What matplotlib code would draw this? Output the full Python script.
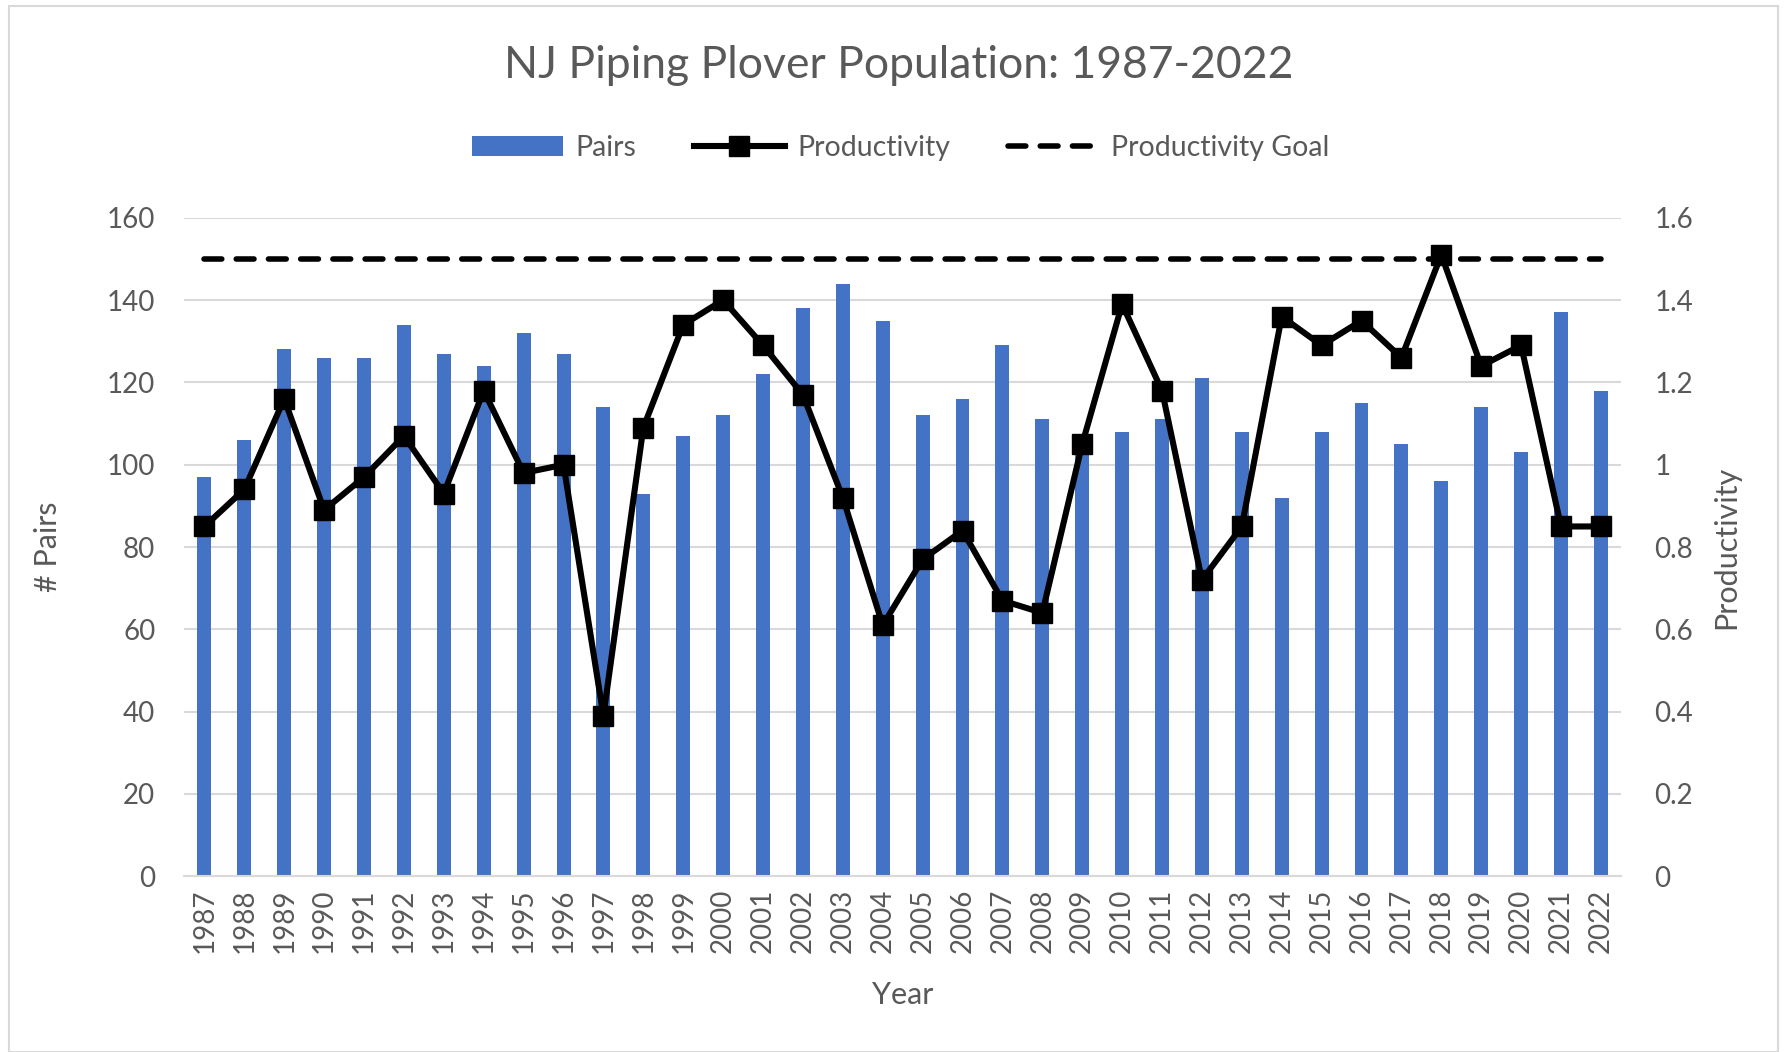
import matplotlib
matplotlib.use("Agg")
import matplotlib.pyplot as plt
import numpy as np
from matplotlib.patches import Rectangle
from matplotlib.lines import Line2D
from matplotlib.patches import Patch

years = list(range(1987, 2023))
pairs = [97, 106, 128, 126, 126, 134, 127, 124, 132, 127,
         114, 93, 107, 112, 122, 138, 144, 135, 112, 116,
         129, 111, 105, 108, 111, 121, 108, 92, 108, 115,
         105, 96, 114, 103, 137, 118]
productivity = [0.85, 0.94, 1.16, 0.89, 0.97, 1.07, 0.93, 1.18, 0.98, 1.00,
                0.39, 1.09, 1.34, 1.40, 1.29, 1.17, 0.92, 0.61, 0.77, 0.84,
                0.67, 0.64, 1.05, 1.39, 1.18, 0.72, 0.85, 1.36, 1.29, 1.35,
                1.26, 1.51, 1.24, 1.29, 0.85, 0.85]
goal = [1.5] * len(years)

TXT = "#595959"
FONT = ["Lato", "DejaVu Sans"]
plt.rcParams['font.family'] = FONT

fig = plt.figure(figsize=(17.91, 10.52), dpi=100)
ax = fig.add_axes([0.103, 0.167, 0.802, 0.626])
ax2 = ax.twinx()

x = np.arange(len(years))
ax.bar(x, pairs, width=0.35, color="#4472C4", zorder=2)
ax.set_ylim(0, 160)
ax.set_yticks(range(0, 161, 20))
ax.set_xlim(-0.5, len(years) - 0.5)
ax.set_xticks(x)
ax.set_xticklabels([str(y) for y in years], rotation=90)
ax.grid(axis='y', color="#D9D9D9", linewidth=1.5, zorder=0)
ax.set_axisbelow(True)

ax2.plot(x, goal, color="black", linewidth=4, linestyle=(0, (3.2, 2.6)),
         dash_capstyle='round', zorder=3)
ax2.plot(x, productivity, color="black", linewidth=4.4, marker='s',
         markersize=14, zorder=4)
ax2.set_ylim(0, 1.6)
ax2.set_yticks([0, 0.2, 0.4, 0.6, 0.8, 1.0, 1.2, 1.4, 1.6])
ax2.set_yticklabels(["0", "0.2", "0.4", "0.6", "0.8", "1", "1.2", "1.4", "1.6"])

for a in (ax, ax2):
    for s in a.spines.values():
        s.set_visible(False)
    a.tick_params(length=0, colors=TXT, labelsize=20)
ax.spines['bottom'].set_visible(True)
ax.spines['bottom'].set_color("#D9D9D9")
ax.spines['bottom'].set_linewidth(1.5)
ax.tick_params(axis='y', pad=21)
ax.tick_params(axis='x', pad=9, labelsize=20)
ax2.tick_params(axis='y', pad=24)

ax.set_ylabel("# Pairs", fontsize=22, color=TXT, labelpad=32)
ax2.set_ylabel("Productivity", fontsize=22, color=TXT, labelpad=14)
ax.set_xlabel("Year", fontsize=22, color=TXT, labelpad=20)

fig.text(0.502, 0.938, "NJ Piping Plover Population: 1987-2022", ha='center',
         va='center', fontsize=32, color=TXT)

handles = [Patch(facecolor="#4472C4"),
           Line2D([0], [0], color='black', lw=4.4, marker='s', markersize=14),
           Line2D([0], [0], color='black', lw=4, linestyle=(0, (3.2, 2.6)),
                  dash_capstyle='round')]
fig.legend(handles, ["Pairs", "Productivity", "Productivity Goal"],
           loc='center', bbox_to_anchor=(0.503, 0.859), ncol=3, frameon=False,
           fontsize=20.5, labelcolor=TXT, handlelength=3.2, columnspacing=2.0,
           handletextpad=0.45)

fig.patches.append(Rectangle((0.005, 0.0), 0.988, 0.994, transform=fig.transFigure,
                             fill=False, edgecolor="#D9D9D9", linewidth=1.5))

fig.savefig("out.png", dpi=100, facecolor="white")
